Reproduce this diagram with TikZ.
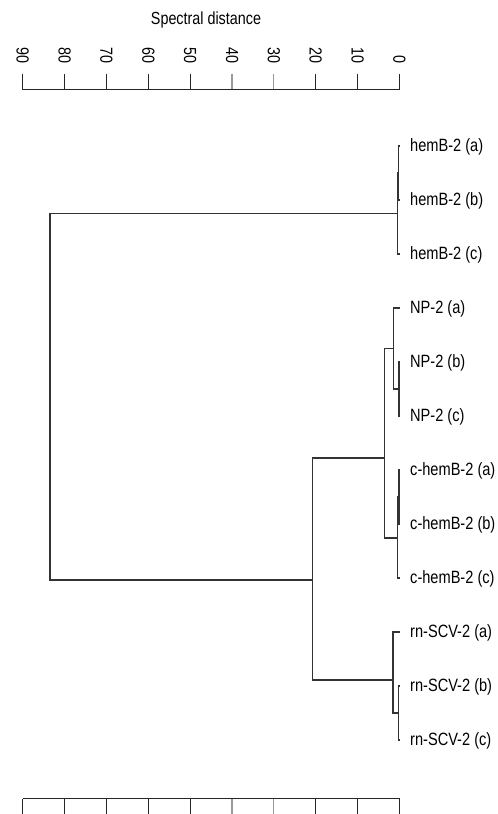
\documentclass[tikz,border=0pt]{standalone}
\usepackage{fontspec}
\setmainfont{Liberation Sans}[FakeStretch=0.82]
\begin{document}
\begin{tikzpicture}[x=1pt,y=-1pt,
  br/.style={line width=1.1pt, draw=black!80},
  axisline/.style={line width=1.1pt, draw=black!85},
  lighttick/.style={line width=1.1pt, draw=black!40},
  lbl/.style={anchor=base west, inner sep=0pt, font=\fontsize{17.8}{20}\selectfont},
  ticklbl/.style={rotate=-90, anchor=east, inner sep=0pt, font=\fontsize{17.5}{20}\selectfont}]
\useasboundingbox (0,0) rectangle (498,814);

% axis title
\node[inner sep=0pt, anchor=base, font=\fontsize{17.5}{20}\selectfont] (title) at (206,24) {Spectral distance};

% axes
\foreach \v [count=\i from 0] in {0,10,20,30,40,50,60,70,80,90} {
  \pgfmathsetmacro{\xx}{399.5-4.1867*\v}
  \coordinate (tt\i) at (\xx,73.5);
  \coordinate (tb\i) at (\xx,89.5);
  \coordinate (bt\i) at (\xx,798.5);
  \coordinate (bb\i) at (\xx,816);
  \node[ticklbl] (tl\i) at (\xx,63.5) {\v};
}
\foreach \i in {0,1,2,5,6,7,8,9} {
  \draw[axisline] (tt\i) -- (tb\i);
  \draw[axisline] (bt\i) -- (bb\i);
}
\foreach \i in {3,4} {
  \draw[lighttick] (tt\i) -- (tb\i);
  \draw[lighttick] (bt\i) -- (bb\i);
}
\draw[axisline] (tb9) -- (tb0);
\draw[axisline] (bt9) -- (bt0);

% leaves
\foreach \t [count=\i] in {hemB-2 (a),hemB-2 (b),hemB-2 (c),NP-2 (a),NP-2 (b),NP-2 (c),c-hemB-2 (a),c-hemB-2 (b),c-hemB-2 (c),rn-SCV-2 (a),rn-SCV-2 (b),rn-SCV-2 (c)} {
  \pgfmathsetmacro{\yy}{146+54*(\i-1)}
  \coordinate (l\i) at (399.5,\yy);
  \node[lbl] (t\i) at (410,\yy+5.5) {\t};
}

% internal nodes
\coordinate (hAB) at (398.9,173);
\coordinate (hABC) at (397.7,213.5);
\coordinate (nBC) at (399.0,389);
\coordinate (nABC) at (393.8,348.5);
\coordinate (cAB) at (399.0,497);
\coordinate (cABC) at (397.7,538);
\coordinate (NC) at (384.5,458);
\coordinate (rBC) at (398.9,713);
\coordinate (rABC) at (393.0,680);
\coordinate (NCR) at (312.5,580);
\coordinate (root) at (50,400);

\draw[br] (l1) -| (hAB) |- (l2);
\draw[br] (hAB) -| (hABC) |- (l3);
\draw[br] (l5) -| (nBC) |- (l6);
\draw[br] (l4) -| (nABC) |- (nBC);
\draw[br] (l7) -| (cAB) |- (l8);
\draw[br] (cAB) -| (cABC) |- (l9);
\draw[br] (nABC) -| (NC) |- (cABC);
\draw[br] (l11) -| (rBC) |- (l12);
\draw[br] (l10) -| (rABC) |- (rBC);
\draw[br] (NC) -| (NCR) |- (rABC);
\draw[br] (hABC) -| (root) |- (NCR);
\end{tikzpicture}
\end{document}
